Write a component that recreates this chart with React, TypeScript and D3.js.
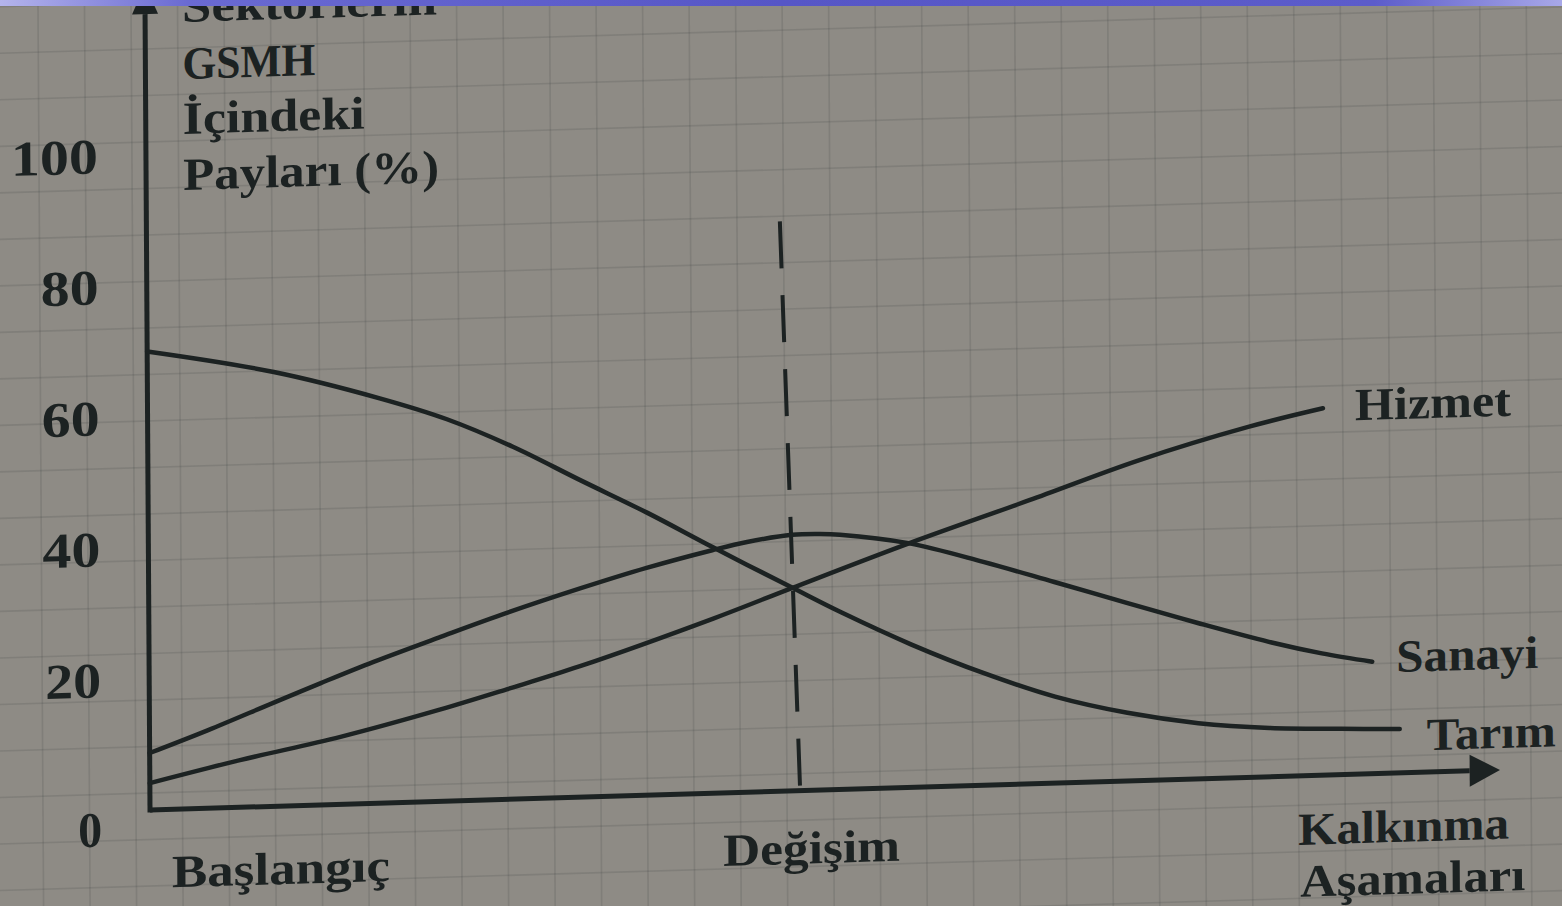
import React from 'react';
import * as d3 from 'd3';

// values (stage 0 = Başlangıç, 5 = Değişim; share in %)
const yTicks = [0, 20, 40, 60, 80, 100];
const yTitle = ['Sektörlerin', 'GSMH', 'İçindeki', 'Payları (%)'];
const xTitle = ['Kalkınma', 'Aşamaları'];
const stageNames = ['Başlangıç', 'Değişim'];

const tarimStage = [0, 0.98, 1.8, 2.32, 2.83, 3.35, 3.87, 4.38, 4.99, 5.37, 5.91, 6.47, 7.02, 7.58, 8.13, 8.68, 9.23, 9.69];
const tarimShare = [70, 66.3, 61.8, 58.3, 53.8, 48.4, 43.1, 37.5, 31.0, 27.0, 21.8, 17.1, 13.2, 10.4, 8.5, 7.45, 7.0, 6.7];

const sanayiStage = [0, 0.45, 0.96, 1.33, 1.74, 2.26, 2.78, 3.35, 3.86, 4.37, 4.64, 4.99, 5.2, 5.36, 5.89, 6.47, 7.02, 7.58, 8.13, 8.68, 9.09, 9.48];
const sanayiShare = [8.7, 11.9, 15.8, 18.6, 21.6, 25.1, 28.5, 31.9, 34.7, 37.1, 38.2, 39.1, 39.1, 38.9, 37.3, 34.1, 30.7, 27.2, 23.8, 20.6, 18.6, 17.1];

const hizmetStage = [0, 0.7, 1.48, 2.25, 2.77, 3.34, 4.38, 4.99, 5.9, 6.83, 7.68, 8.53, 9.11];
const hizmetShare = [4.1, 7.2, 10.3, 14.0, 16.8, 20.0, 26.7, 31.0, 37.3, 43.3, 48.9, 53.5, 56.0];

const changeStage = [4.91, 5.04];
const changeShare = [87, 0];

const W = 1562;
const H = 906;
const INK = '#1c2222';
const FONT = '"Liberation Serif", "Times New Roman", serif';

// the photo is slightly skewed; reproduce it with one affine on the plot group
const ORIGIN = { x: 150, y: 810 };
const SKEW_Y = -0.0297;
const SKEW_X = 0.0062;

export default function App() {
  const x = d3.scaleLinear().domain([0, 10]).range([150, 1440]);
  const y = d3.scaleLinear().domain([0, 100]).range([810, 155]);

  const line = d3.line<[number, number]>()
    .x(d => x(d[0]))
    .y(d => y(d[1]))
    .curve(d3.curveCatmullRom.alpha(0.5));

  const series = [
    { name: 'Tarım', pts: tarimStage.map((s, i) => [s, tarimShare[i]] as [number, number]), dx: 27, dy: 22, w: 129 },
    { name: 'Sanayi', pts: sanayiStage.map((s, i) => [s, sanayiShare[i]] as [number, number]), dx: 24, dy: 11, w: 142 },
    { name: 'Hizmet', pts: hizmetStage.map((s, i) => [s, hizmetShare[i]] as [number, number]), dx: 32, dy: 13, w: 156 },
  ];

  const tf = `matrix(1, ${SKEW_Y}, ${SKEW_X}, 1, ${-SKEW_X * ORIGIN.y}, ${-SKEW_Y * ORIGIN.x})`;

  const gridX = d3.range(-4, 36).map(k => 136 + 46.5 * k);
  const gridY = d3.range(-4, 22).map(k => 793 - 46.5 * k);

  const xEnd = 10.465, xBase = 10.23;
  const yEnd = 126, yBase = 121.5;

  const titleBase = [23, 80, 135, 191];
  const titleW = [255, 133, 182, 256];
  const tickW: Record<number, number> = { 0: 24, 20: 56, 40: 58, 60: 58, 80: 58, 100: 87 };

  const txt = { fontFamily: FONT, fontWeight: 700, fill: INK } as const;

  return (
    <svg width={W} height={H} style={{ position: 'absolute', left: 0, top: 0, background: '#8e8b85' }}>
      <defs>
        <linearGradient id="band" x1="0" x2="1" y1="0" y2="0">
          <stop offset="0%" stopColor="#b4b4ec" />
          <stop offset="12%" stopColor="#6a6ad2" />
          <stop offset="50%" stopColor="#5656c6" />
          <stop offset="88%" stopColor="#5c5cca" />
          <stop offset="100%" stopColor="#a8a8e8" />
        </linearGradient>
      </defs>
      <rect width={W} height={H} fill="#8e8b85" />

      <g transform={tf}>
        {/* graph paper */}
        <g stroke="rgba(60,68,68,0.17)" strokeWidth={1.6}>
          {gridX.map(gx => <line key={'gx' + gx} x1={gx} x2={gx} y1={-150} y2={1050} />)}
          {gridY.map(gy => <line key={'gy' + gy} x1={-150} x2={1800} y1={gy} y2={gy} />)}
        </g>

        {/* axes */}
        <line x1={x(0)} y1={y(0)} x2={x(xBase)} y2={y(0)} stroke={INK} strokeWidth={5} />
        <path d={`M${x(xEnd)},${y(0)}L${x(xBase)},${y(0) - 16}L${x(xBase)},${y(0) + 16}Z`} fill={INK} />
        <line x1={x(0)} y1={y(0) + 2.5} x2={x(0)} y2={y(yBase)} stroke={INK} strokeWidth={5} />
        <path d={`M${x(0)},${y(yEnd)}L${x(0) - 13},${y(yBase)}L${x(0) + 13},${y(yBase)}Z`} fill={INK} />

        {/* Değişim marker */}
        <line
          x1={x(changeStage[0])} y1={y(changeShare[0])}
          x2={x(changeStage[1])} y2={y(changeShare[1])}
          stroke={INK} strokeWidth={4} strokeDasharray="47 27"
        />

        {series.map(s => (
          <path key={s.name} d={line(s.pts) || ''} fill="none" stroke={INK} strokeWidth={4.5} strokeLinecap="round" />
        ))}

        {series.map(s => {
          const last = s.pts[s.pts.length - 1];
          return (
            <text key={'l' + s.name} x={x(last[0]) + s.dx} y={y(last[1]) + s.dy} fontSize={46}
              textLength={s.w} lengthAdjust="spacingAndGlyphs" {...txt}>{s.name}</text>
          );
        })}

        {yTicks.map(v => (
          <text key={'t' + v} x={102} y={y(v) + (v === 0 ? 35 : 17)} fontSize={50} textAnchor="end"
            textLength={tickW[v]} lengthAdjust="spacingAndGlyphs" {...txt}>{v}</text>
        ))}

        {yTitle.map((t, i) => (
          <text key={'yt' + i} x={187} y={titleBase[i]} fontSize={46}
            textLength={titleW[i]} lengthAdjust="spacingAndGlyphs" {...txt}>{t}</text>
        ))}

        <text x={171.5} y={888} fontSize={46} textLength={218} lengthAdjust="spacingAndGlyphs" {...txt}>{stageNames[0]}</text>
        <text x={722.7} y={883} fontSize={46} textLength={177} lengthAdjust="spacingAndGlyphs" {...txt}>{stageNames[1]}</text>
        <text x={1297.8} y={879} fontSize={46} textLength={211} lengthAdjust="spacingAndGlyphs" {...txt}>{xTitle[0]}</text>
        <text x={1299.5} y={931} fontSize={46} textLength={225} lengthAdjust="spacingAndGlyphs" {...txt}>{xTitle[1]}</text>
      </g>

      <rect x={0} y={0} width={W} height={6} fill="url(#band)" />
    </svg>
  );
}
